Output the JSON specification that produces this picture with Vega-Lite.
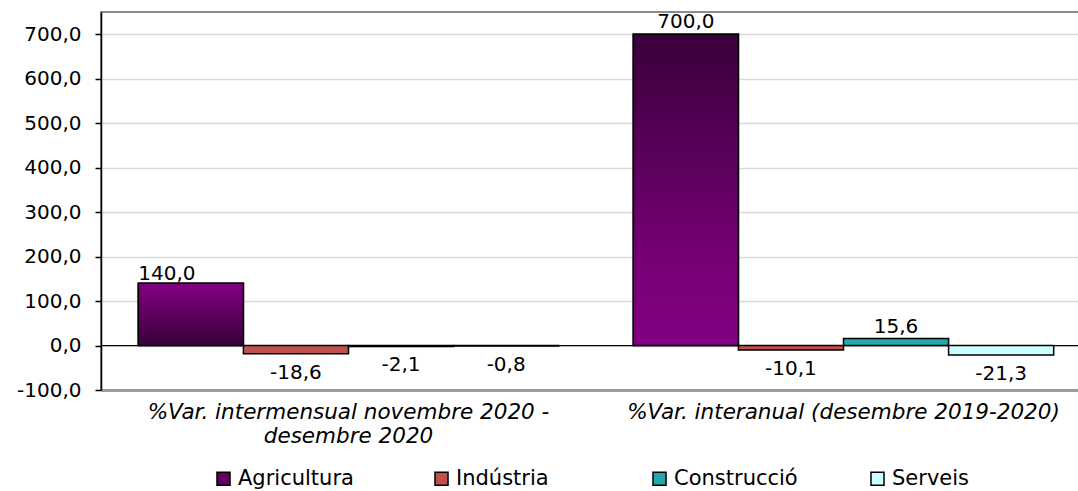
{
  "$schema": "https://vega.github.io/schema/vega-lite/v6.json",
  "width": 990,
  "height": 378,
  "autosize": {"type": "none"},
  "padding": {"left": 101, "top": 12, "right": -13, "bottom": 101},
  "background": "white",
  "config": {
    "font": "DejaVu Sans",
    "locale": {"number": {"decimal": ",", "thousands": ".", "grouping": [3], "currency": ["", " €"], "minus": "-"}},
    "view": {"stroke": "#8c8c8c", "strokeWidth": 2}
  },
  "data": {
    "values": [
      {"cat": "%Var. intermensual novembre 2020 - desembre 2020", "sector": "Agricultura", "value": 140.0},
      {"cat": "%Var. intermensual novembre 2020 - desembre 2020", "sector": "Indústria", "value": -18.6},
      {"cat": "%Var. intermensual novembre 2020 - desembre 2020", "sector": "Construcció", "value": -2.1},
      {"cat": "%Var. intermensual novembre 2020 - desembre 2020", "sector": "Serveis", "value": -0.8},
      {"cat": "%Var. interanual (desembre 2019-2020)", "sector": "Agricultura", "value": 700.0},
      {"cat": "%Var. interanual (desembre 2019-2020)", "sector": "Indústria", "value": -10.1},
      {"cat": "%Var. interanual (desembre 2019-2020)", "sector": "Construcció", "value": 15.6},
      {"cat": "%Var. interanual (desembre 2019-2020)", "sector": "Serveis", "value": -21.3}
    ]
  },
  "encoding": {
    "x": {
      "field": "cat", "type": "nominal",
      "scale": {"domain": ["%Var. intermensual novembre 2020 - desembre 2020", "%Var. interanual (desembre 2019-2020)"], "paddingInner": 0, "paddingOuter": 0},
      "axis": {
        "title": null, "ticks": false, "domainColor": "#9a9a9a", "domainWidth": 3,
        "labelFontSize": 21.5, "labelFontStyle": "italic", "labelColor": "black",
        "labelPadding": 11, "labelLimit": 0, "labelAngle": 0, "labelLineHeight": 24,
        "labelExpr": "indexof(datum.label, 'intermensual') >= 0 ? ['%Var. intermensual novembre 2020 -', 'desembre 2020'] : datum.label"
      }
    },
    "xOffset": {
      "field": "sector", "type": "nominal",
      "scale": {"domain": ["Agricultura", "Indústria", "Construcció", "Serveis"], "paddingOuter": 0.355, "paddingInner": 0}
    },
    "y": {
      "field": "value", "type": "quantitative",
      "scale": {"domain": [-100, 750], "nice": false, "zero": false},
      "axis": {
        "title": null, "values": [-100, 0, 100, 200, 300, 400, 500, 600, 700], "format": ".1f",
        "labelFontSize": 20, "labelColor": "black", "labelPadding": 14,
        "tickSize": 6, "tickColor": "black", "tickWidth": 1.5,
        "domainColor": "black", "domainWidth": 1.5,
        "gridColor": "#d9d9d9", "gridWidth": 1.5
      }
    }
  },
  "layer": [
    {
      "mark": {"type": "rule", "color": "black", "strokeWidth": 1},
      "encoding": {"y": {"datum": 0}, "x": {"value": 0}, "x2": {"value": 990}, "xOffset": null}
    },
    {
      "mark": {"type": "bar", "stroke": "black", "strokeWidth": 1.5},
      "encoding": {
        "color": {
          "field": "sector", "type": "nominal",
          "scale": {"domain": ["Agricultura", "Indústria", "Construcció", "Serveis"], "range": ["#5e005e", "#c0504d", "#23a9a9", "#ccffff"]},
          "legend": {
            "orient": "none", "legendX": 112, "legendY": 456, "direction": "horizontal",
            "columns": 4, "gridAlign": "all", "columnPadding": 69, "title": null,
            "symbolType": "square", "symbolSize": 170, "symbolStrokeColor": "black", "symbolStrokeWidth": 1.5,
            "labelFontSize": 21, "labelColor": "black", "labelOffset": 4, "labelLimit": 0
          }
        }
      }
    },
    {
      "transform": [{"filter": "datum.sector == 'Agricultura' && indexof(datum.cat, 'intermensual') >= 0"}],
      "mark": {"type": "bar", "stroke": "black", "strokeWidth": 1.5,
        "fill": {"gradient": "linear", "x1": 0, "y1": 0, "x2": 0, "y2": 1,
          "stops": [{"offset": 0, "color": "#820082"}, {"offset": 1, "color": "#3a003a"}]}}
    },
    {
      "transform": [{"filter": "datum.sector == 'Agricultura' && indexof(datum.cat, 'interanual') >= 0"}],
      "mark": {"type": "bar", "stroke": "black", "strokeWidth": 1.5,
        "fill": {"gradient": "linear", "x1": 0, "y1": 0, "x2": 0, "y2": 1,
          "stops": [{"offset": 0, "color": "#3a003a"}, {"offset": 0.75, "color": "#780078"}, {"offset": 1, "color": "#820082"}]}}
    },
    {
      "transform": [{"filter": "datum.value >= 0 && datum.value < 100"}],
      "mark": {"type": "text", "fontSize": 20, "color": "black", "baseline": "alphabetic", "dy": -6},
      "encoding": {"text": {"field": "value", "type": "quantitative", "format": ".1f"}}
    },
    {
      "transform": [{"filter": "datum.value >= 500"}],
      "mark": {"type": "text", "fontSize": 20, "color": "black", "baseline": "alphabetic", "dy": -6},
      "encoding": {"text": {"field": "value", "type": "quantitative", "format": ".1f"}}
    },
    {
      "transform": [{"filter": "datum.value >= 100 && datum.value < 500"}],
      "mark": {"type": "text", "fontSize": 20, "color": "black", "baseline": "alphabetic", "dy": -3, "dx": -24},
      "encoding": {"text": {"field": "value", "type": "quantitative", "format": ".1f"}}
    },
    {
      "transform": [{"filter": "datum.value < 0"}],
      "mark": {"type": "text", "fontSize": 20, "color": "black", "baseline": "top", "dy": 9},
      "encoding": {"text": {"field": "value", "type": "quantitative", "format": ".1f"}}
    }
  ]
}
